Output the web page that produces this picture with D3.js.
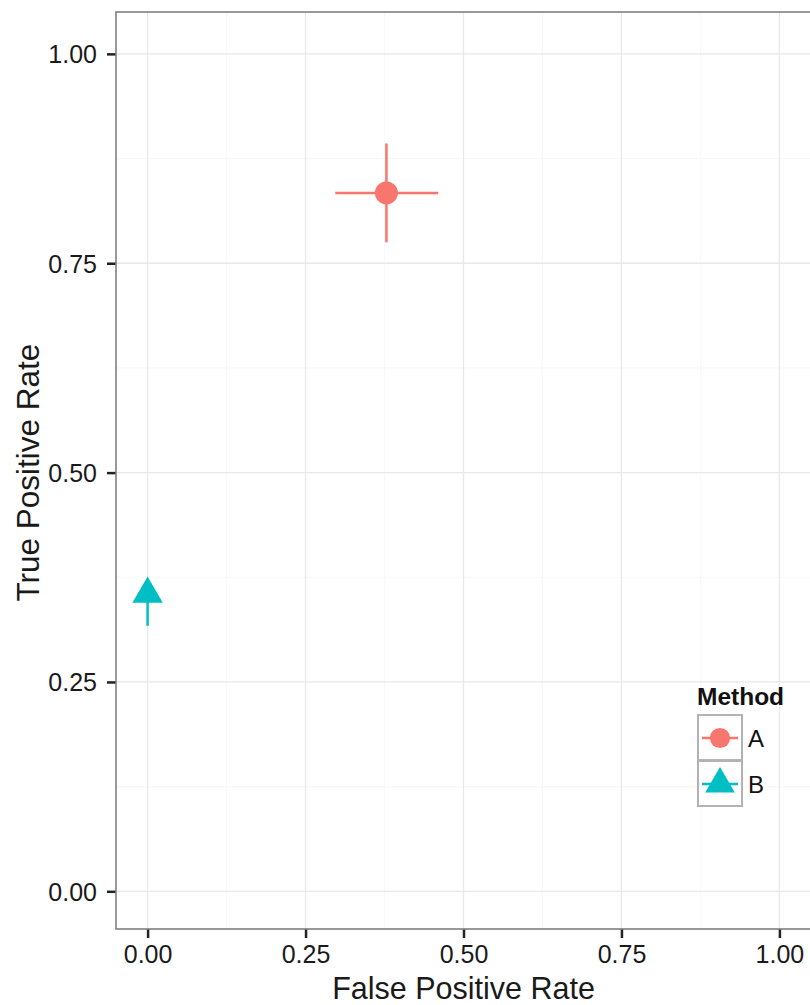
<!DOCTYPE html>
<html>
<head>
<meta charset="utf-8">
<script src="https://cdn.jsdelivr.net/npm/d3@7"></script>
<style>
  body { margin: 0; background: #fff; }
  svg { display: block; font-family: "Liberation Sans", Arial, sans-serif; }
</style>
</head>
<body>
<div id="chart"></div>
<script>
var width = 810, height = 1005;
var panel = {left: 116, top: 12, right: 811, bottom: 929};

// data
var methods = ["A", "B"];
var fpr     = [0.378, 0.0];
var fprLo   = [0.297, 0.0];
var fprHi   = [0.460, 0.0];
var tpr     = [0.834, 0.355];
var tprLo   = [0.775, 0.317];
var tprHi   = [0.893, 0.362];
var ticks   = [0, 0.25, 0.5, 0.75, 1];
var minorTicks = [0.125, 0.375, 0.625, 0.875];
var colors  = ["#F8766D", "#00BFC4"];

var pts = methods.map(function(m, i) {
  return {m: m, x: fpr[i], xlo: fprLo[i], xhi: fprHi[i], y: tpr[i], ylo: tprLo[i], yhi: tprHi[i], c: colors[i]};
});

var x = d3.scaleLinear().domain([-0.05, 1.05]).range([panel.left, panel.right]);
var y = d3.scaleLinear().domain([-0.045, 1.05]).range([panel.bottom, panel.top]);

var svg = d3.select("#chart").append("svg")
  .attr("width", width)
  .attr("height", height);

// grid
var grid = svg.append("g");
grid.selectAll(".minx").data(minorTicks).enter().append("line")
  .attr("x1", d => x(d)).attr("x2", d => x(d))
  .attr("y1", panel.top).attr("y2", panel.bottom)
  .attr("stroke", "#f8f8f8").attr("stroke-width", 1.2);
grid.selectAll(".miny").data(minorTicks).enter().append("line")
  .attr("y1", d => y(d)).attr("y2", d => y(d))
  .attr("x1", panel.left).attr("x2", panel.right)
  .attr("stroke", "#f8f8f8").attr("stroke-width", 1.2);
grid.selectAll(".majx").data(ticks).enter().append("line")
  .attr("x1", d => x(d)).attr("x2", d => x(d))
  .attr("y1", panel.top).attr("y2", panel.bottom)
  .attr("stroke", "#e8e8e8").attr("stroke-width", 1.3);
grid.selectAll(".majy").data(ticks).enter().append("line")
  .attr("y1", d => y(d)).attr("y2", d => y(d))
  .attr("x1", panel.left).attr("x2", panel.right)
  .attr("stroke", "#e8e8e8").attr("stroke-width", 1.3);

// axes
var xAxis = svg.append("g")
  .attr("transform", "translate(0," + panel.bottom + ")")
  .call(d3.axisBottom(x).tickValues(ticks).tickFormat(d3.format(".2f")).tickSize(9).tickPadding(5));
var yAxis = svg.append("g")
  .attr("transform", "translate(" + panel.left + ",0)")
  .call(d3.axisLeft(y).tickValues(ticks).tickFormat(d3.format(".2f")).tickSize(9).tickPadding(10));
[xAxis, yAxis].forEach(function(a) {
  a.select(".domain").remove();
  a.selectAll(".tick line").attr("stroke", "#222").attr("stroke-width", 2.5);
  a.selectAll(".tick text").attr("font-size", 25).attr("fill", "#1a1a1a")
    .attr("font-family", "Liberation Sans, Arial, sans-serif");
});
xAxis.selectAll(".tick text").attr("dy", "0.8em");
yAxis.selectAll(".tick text").attr("dy", "0.36em");

// panel border
svg.append("rect")
  .attr("x", panel.left).attr("y", panel.top)
  .attr("width", panel.right - panel.left).attr("height", panel.bottom - panel.top)
  .attr("fill", "none").attr("stroke", "#7f7f7f").attr("stroke-width", 1.6);

// error bars
var g = svg.append("g");
g.selectAll(".ev").data(pts).enter().append("line")
  .attr("x1", d => x(d.x)).attr("x2", d => x(d.x))
  .attr("y1", d => y(d.ylo)).attr("y2", d => y(d.yhi))
  .attr("stroke", d => d.c).attr("stroke-width", 2.5);
g.selectAll(".eh").data(pts).enter().append("line")
  .attr("x1", d => x(d.xlo)).attr("x2", d => x(d.xhi))
  .attr("y1", d => y(d.y)).attr("y2", d => y(d.y))
  .attr("stroke", d => d.c).attr("stroke-width", 2.5);

var shapes = [d3.symbolCircle, d3.symbolTriangle];
g.selectAll(".pt").data(pts).enter().append("path")
  .attr("transform", d => "translate(" + x(d.x) + "," + y(d.y) + ")")
  .attr("d", (d, i) => d3.symbol().type(shapes[i]).size(i == 0 ? 415 : 400)())
  .attr("fill", d => d.c);

// legend
var lg = svg.append("g").attr("transform", "translate(697,0)");
lg.append("text").attr("x", 0).attr("y", 705)
  .attr("font-size", 24.5).attr("font-weight", "bold").attr("fill", "#111").text("Method");
var key = lg.selectAll(".key").data(pts).enter().append("g")
  .attr("transform", (d, i) => "translate(0," + (715 + i * 46) + ")");
key.append("rect").attr("x", 1).attr("y", 0).attr("width", 44).attr("height", 45)
  .attr("fill", "#fff").attr("stroke", "#b3b3b3").attr("stroke-width", 2);
key.append("line").attr("x1", 5).attr("x2", 41).attr("y1", 23).attr("y2", 23)
  .attr("stroke", d => d.c).attr("stroke-width", 2.5);
key.append("path").attr("transform", "translate(23,23)")
  .attr("d", (d, i) => d3.symbol().type(shapes[i]).size(i == 0 ? 320 : 380)())
  .attr("fill", d => d.c);
key.append("text").attr("x", 51).attr("y", 23).attr("dy", "0.36em")
  .attr("font-size", 24).attr("fill", "#111").text(d => d.m);

// axis titles
svg.append("text").attr("x", x(0.5)).attr("y", 999)
  .attr("text-anchor", "middle").attr("font-size", 30.5).attr("fill", "#1a1a1a")
  .text("False Positive Rate");
svg.append("text")
  .attr("transform", "translate(39," + y(0.5) + ") rotate(-90)")
  .attr("text-anchor", "middle").attr("font-size", 31.5).attr("fill", "#1a1a1a")
  .text("True Positive Rate");
</script>
</body>
</html>
